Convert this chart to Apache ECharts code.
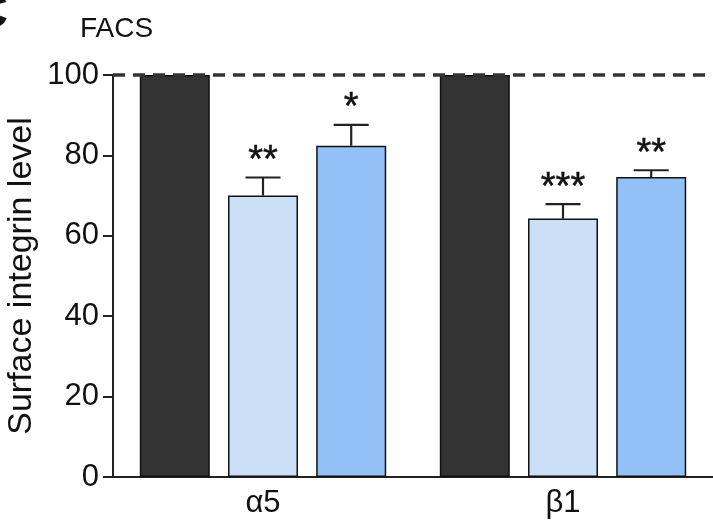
<!DOCTYPE html>
<html>
<head>
<meta charset="utf-8">
<script src="https://cdn.jsdelivr.net/npm/echarts@6/dist/echarts.min.js"></script>
<style>
html,body{margin:0;padding:0;background:#fff;}
#chart{width:713px;height:526px;}
</style>
</head>
<body>
<div id="chart"></div>
<script>
const categories = ['α5', 'β1'];
const controlValues = [100, 100];
const treatAValues = [70.0, 64.3];
const treatAErrors = [74.5, 67.9];
const treatAStars = ['**', '***'];
const treatBValues = [82.4, 74.6];
const treatBErrors = [87.6, 76.3];
const treatBStars = ['*', '**'];
const yTicks = [0, 20, 40, 60, 80, 100];
const referenceLevel = 100;

const FONT = 'Liberation Sans, Arial, Helvetica, sans-serif';
const BAR_W = 70;
const GAP = 0.26;
const STEP = BAR_W * (1 + GAP);

function errSeries(values, errs, stars, slot) {
  const data = values.map((v, i) => [i, v, errs[i], stars[i]]);
  return {
    type: 'custom',
    z: 5,
    data: data,
    encode: { x: 0, y: [1, 2] },
    renderItem: function (params, api) {
      const i = api.value(0);
      const top = api.coord([i, api.value(1)]);
      const hi = api.coord([i, api.value(2)]);
      const dx = slot * STEP;
      const x = top[0] + dx;
      const half = 17.5;
      const star = data[params.dataIndex][3];
      return {
        type: 'group',
        children: [
          { type: 'line', shape: { x1: x, y1: top[1], x2: x, y2: hi[1] }, style: { stroke: '#222', lineWidth: 2.2 } },
          { type: 'line', shape: { x1: x - half, y1: hi[1], x2: x + half, y2: hi[1] }, style: { stroke: '#222', lineWidth: 2.2 } },
          { type: 'text', x: x, y: hi[1] - 16, style: { text: star, fill: '#111', font: '38px ' + FONT, align: 'center', verticalAlign: 'middle', stroke: '#111', lineWidth: 0.5 } }
        ]
      };
    }
  };
}

const chart = echarts.init(document.getElementById('chart'), null, { renderer: 'canvas' });
chart.setOption({
  backgroundColor: '#fff',
  animation: false,
  grid: { left: 113, right: 0, top: 75, bottom: 49, containLabel: false, outerBoundsMode: 'none' },
  graphic: [
    { type: 'text', left: 80, top: 15, style: { text: 'FACS', font: '28px ' + FONT, fill: '#111' } },
    { type: 'text', left: -28, top: -11, style: { text: 'C', font: 'bold 50px ' + FONT, fill: '#111' } }
  ],
  xAxis: {
    type: 'category',
    data: categories,
    axisLine: { lineStyle: { color: '#222', width: 2 } },
    axisTick: { alignWithLabel: true, length: 10, lineStyle: { color: '#222', width: 2 } },
    axisLabel: { color: '#111', fontSize: 31, fontFamily: FONT, margin: 11 }
  },
  yAxis: {
    type: 'value',
    min: 0, max: 100, interval: 20,
    name: 'Surface integrin level',
    nameLocation: 'middle',
    nameGap: 74,
    nameMoveOverlap: false,
    nameTextStyle: { color: '#111', fontSize: 34, fontFamily: FONT },
    axisLine: { show: true, lineStyle: { color: '#222', width: 2 } },
    axisTick: { show: true, length: 10, lineStyle: { color: '#222', width: 2 } },
    axisLabel: { color: '#111', fontSize: 31, fontFamily: FONT, margin: 14,
      formatter: v => yTicks.includes(v) ? String(v) : '' },
    splitLine: { show: false }
  },
  series: [
    {
      type: 'bar', data: controlValues, barWidth: BAR_W, barGap: (GAP * 100) + '%',
      itemStyle: { color: '#333333', borderColor: '#111', borderWidth: 1.5 },
      markLine: {
        silent: true, symbol: 'none', z: 10,
        label: { show: false },
        lineStyle: { color: '#333', type: [12, 8], width: 3.5 },
        data: [{ yAxis: referenceLevel }]
      }
    },
    {
      type: 'bar', data: treatAValues, barWidth: BAR_W,
      itemStyle: { color: '#cbdff7', borderColor: '#111', borderWidth: 1.5 }
    },
    {
      type: 'bar', data: treatBValues, barWidth: BAR_W,
      itemStyle: { color: '#93c1f7', borderColor: '#111', borderWidth: 1.5 }
    },
    errSeries(treatAValues, treatAErrors, treatAStars, 0),
    errSeries(treatBValues, treatBErrors, treatBStars, 1)
  ]
});
</script>
</body>
</html>
